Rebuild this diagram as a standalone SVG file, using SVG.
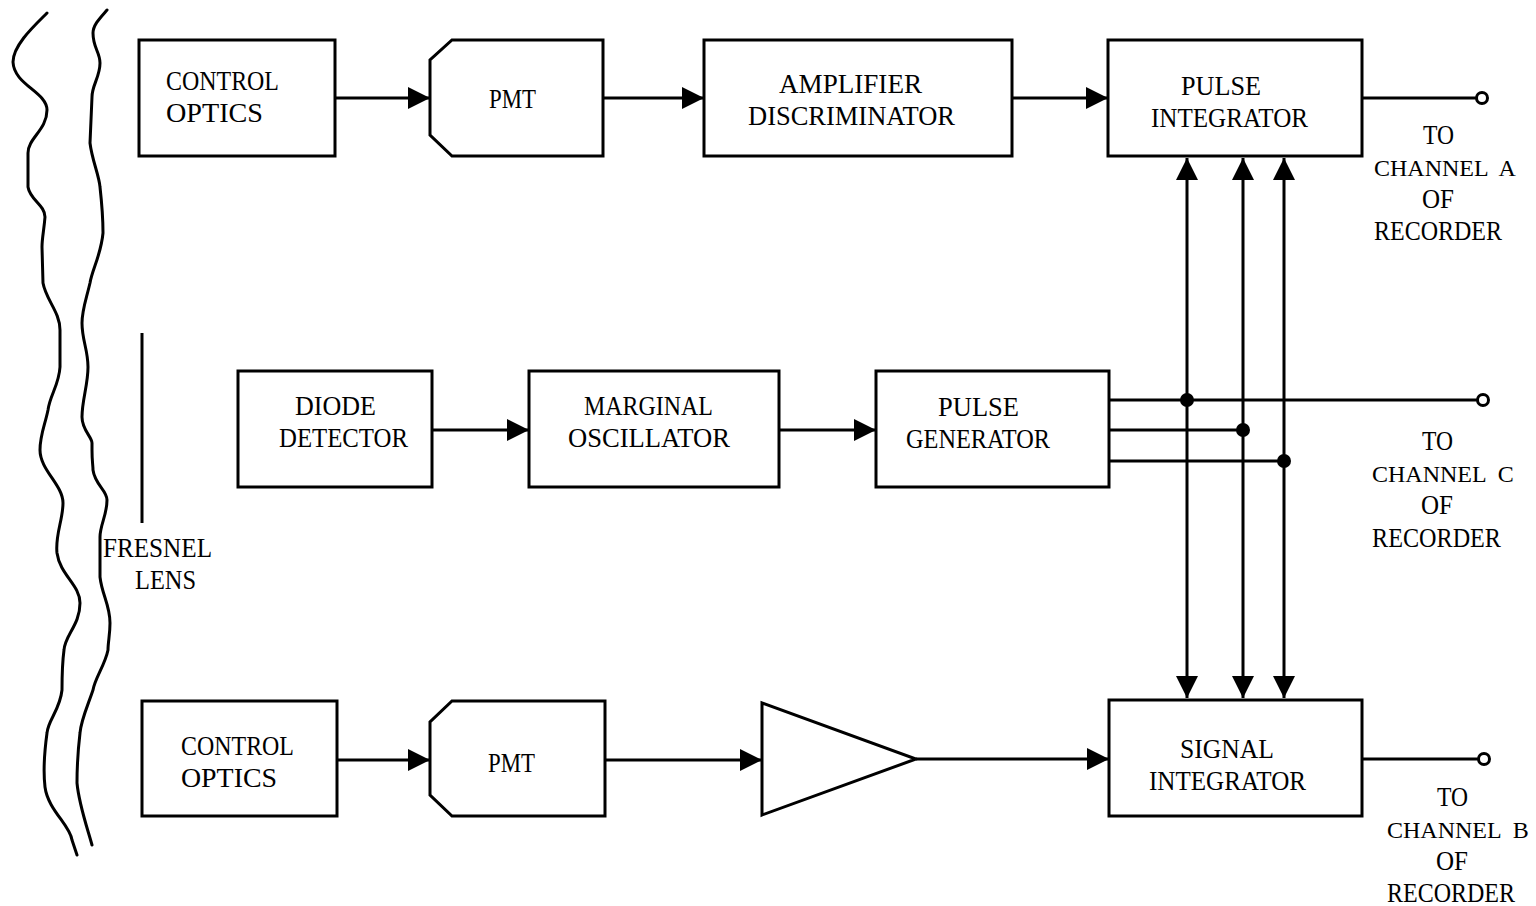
<svg xmlns="http://www.w3.org/2000/svg" width="1536" height="906" viewBox="0 0 1536 906">
<style>
.b{fill:#fff;stroke:#000;stroke-width:3}
.w{fill:none;stroke:#000;stroke-width:3;stroke-linecap:round;stroke-linejoin:round}
.c{fill:none;stroke:#000;stroke-width:3}
.t{font-family:"Liberation Serif","Times New Roman",serif;font-size:28px;fill:#000}
.ch{font-family:"Liberation Serif","Times New Roman",serif;font-size:24px;word-spacing:6px;fill:#000}
.term{fill:#fff;stroke:#000;stroke-width:3}
</style>
<defs>
<marker id="ah" markerUnits="userSpaceOnUse" markerWidth="24" markerHeight="24" refX="22" refY="11" orient="auto-start-reverse">
<path d="M0,0 L22,11 L0,22 Z" fill="#000"/>
</marker>
</defs>
<rect width="1536" height="906" fill="#fff"/>
<g id="boundary">
<path class="w" d="M47,13 C35,25 13,45 13,62 C14,85 47,92 47,110 C47,130 28,138 28,153 L28,187 C30,200 45,205 45,217 C44,230 42,238 42,247 L43,283 C46,300 60,312 60,330 L60,367 C59,385 50,395 48,410 C45,425 40,435 40,450 C40,470 63,485 63,503 C63,520 55,535 57,553 C60,575 80,585 80,603 C80,625 65,635 64,650 C62,665 62,680 62,690 C60,710 48,720 47,733 C44,755 43,770 45,787 C48,810 70,825 72,840 L77,855"/>
<path class="w" d="M107,10 C100,18 93,25 93,33 C93,48 100,52 100,63 C100,77 92,85 92,97 L90,143 C92,160 99,175 100,187 C102,205 103,220 103,233 C101,255 92,270 90,283 C86,300 82,310 82,323 C82,340 88,350 88,367 C88,385 82,400 82,417 C82,430 92,437 92,443 L92,450 C92,462 93,465 93,470 C95,485 107,490 107,500 C107,515 100,525 100,537 L100,577 C102,595 110,605 110,623 C110,635 108,642 108,650 C105,665 95,678 93,690 C88,705 81,720 80,733 C78,750 77,765 77,783 C79,805 88,830 92,845"/>
</g>
<g id="fresnel-lens">
<line class="c" x1="142" y1="333" x2="142" y2="523"/>
<text class="t" x="103" y="557" textLength="109" lengthAdjust="spacingAndGlyphs">FRESNEL</text>
<text class="t" x="135" y="589" textLength="61" lengthAdjust="spacingAndGlyphs">LENS</text>
</g>
<g id="control-optics-a">
<rect class="b" x="139" y="40" width="196" height="116"/>
<text class="t" x="166" y="90" textLength="113" lengthAdjust="spacingAndGlyphs">CONTROL</text>
<text class="t" x="166" y="122" textLength="97" lengthAdjust="spacingAndGlyphs">OPTICS</text>
</g>
<g id="pmt-a">
<path class="b" d="M452,40 L603,40 L603,156 L452,156 L430,135 L430,60 Z"/>
<text class="t" x="489" y="108" textLength="47" lengthAdjust="spacingAndGlyphs">PMT</text>
</g>
<g id="amplifier-discriminator">
<rect class="b" x="704" y="40" width="308" height="116"/>
<text class="t" x="779" y="93" textLength="143" lengthAdjust="spacingAndGlyphs">AMPLIFIER</text>
<text class="t" x="748" y="125" textLength="207" lengthAdjust="spacingAndGlyphs">DISCRIMINATOR</text>
</g>
<g id="pulse-integrator">
<rect class="b" x="1108" y="40" width="254" height="116"/>
<text class="t" x="1181" y="95" textLength="80" lengthAdjust="spacingAndGlyphs">PULSE</text>
<text class="t" x="1151" y="127" textLength="157" lengthAdjust="spacingAndGlyphs">INTEGRATOR</text>
</g>
<g id="diode-detector">
<rect class="b" x="238" y="371" width="194" height="116"/>
<text class="t" x="295" y="415" textLength="81" lengthAdjust="spacingAndGlyphs">DIODE</text>
<text class="t" x="279" y="447" textLength="129" lengthAdjust="spacingAndGlyphs">DETECTOR</text>
</g>
<g id="marginal-oscillator">
<rect class="b" x="529" y="371" width="250" height="116"/>
<text class="t" x="584" y="415" textLength="129" lengthAdjust="spacingAndGlyphs">MARGINAL</text>
<text class="t" x="568" y="447" textLength="162" lengthAdjust="spacingAndGlyphs">OSCILLATOR</text>
</g>
<g id="pulse-generator">
<rect class="b" x="876" y="371" width="233" height="116"/>
<text class="t" x="938" y="416" textLength="81" lengthAdjust="spacingAndGlyphs">PULSE</text>
<text class="t" x="906" y="448" textLength="144" lengthAdjust="spacingAndGlyphs">GENERATOR</text>
</g>
<g id="control-optics-b">
<rect class="b" x="142" y="701" width="195" height="115"/>
<text class="t" x="181" y="755" textLength="113" lengthAdjust="spacingAndGlyphs">CONTROL</text>
<text class="t" x="181" y="787" textLength="96" lengthAdjust="spacingAndGlyphs">OPTICS</text>
</g>
<g id="pmt-b">
<path class="b" d="M452,701 L605,701 L605,816 L452,816 L430,795 L430,722 Z"/>
<text class="t" x="488" y="772" textLength="47" lengthAdjust="spacingAndGlyphs">PMT</text>
</g>
<g id="amplifier">
<path class="b" d="M762,703 L916,759 L762,815 Z"/>
</g>
<g id="signal-integrator">
<rect class="b" x="1109" y="700" width="253" height="116"/>
<text class="t" x="1180" y="758" textLength="94" lengthAdjust="spacingAndGlyphs">SIGNAL</text>
<text class="t" x="1149" y="790" textLength="157" lengthAdjust="spacingAndGlyphs">INTEGRATOR</text>
</g>
<g id="connectors">
<line class="c" x1="335" y1="98" x2="430" y2="98" marker-end="url(#ah)"/>
<line class="c" x1="603" y1="98" x2="704" y2="98" marker-end="url(#ah)"/>
<line class="c" x1="1012" y1="98" x2="1108" y2="98" marker-end="url(#ah)"/>
<line class="c" x1="432" y1="430" x2="529" y2="430" marker-end="url(#ah)"/>
<line class="c" x1="779" y1="430" x2="876" y2="430" marker-end="url(#ah)"/>
<line class="c" x1="337" y1="760" x2="430" y2="760" marker-end="url(#ah)"/>
<line class="c" x1="605" y1="760" x2="762" y2="760" marker-end="url(#ah)"/>
<line class="c" x1="916" y1="759" x2="1109" y2="759" marker-end="url(#ah)"/>
<line class="c" x1="1187" y1="158" x2="1187" y2="698" marker-start="url(#ah)" marker-end="url(#ah)"/>
<line class="c" x1="1243" y1="158" x2="1243" y2="698" marker-start="url(#ah)" marker-end="url(#ah)"/>
<line class="c" x1="1284" y1="158" x2="1284" y2="698" marker-start="url(#ah)" marker-end="url(#ah)"/>
<line class="c" x1="1109" y1="400" x2="1477" y2="400"/>
<line class="c" x1="1109" y1="430" x2="1243" y2="430"/>
<line class="c" x1="1109" y1="461" x2="1284" y2="461"/>
<circle cx="1187" cy="400" r="7" fill="#000"/>
<circle cx="1243" cy="430" r="7" fill="#000"/>
<circle cx="1284" cy="461" r="7" fill="#000"/>
<line class="c" x1="1362" y1="98" x2="1476" y2="98"/>
<line class="c" x1="1362" y1="759" x2="1478" y2="759"/>
<circle class="term" cx="1482" cy="98" r="5.5"/>
<circle class="term" cx="1483" cy="400" r="5.5"/>
<circle class="term" cx="1484" cy="759" r="5.5"/>
</g>
<g id="label-channel-a">
<text class="t" x="1423" y="144" textLength="31" lengthAdjust="spacingAndGlyphs">TO</text>
<text class="ch" x="1374" y="176">CHANNEL A</text>
<text class="t" x="1422" y="208" textLength="32" lengthAdjust="spacingAndGlyphs">OF</text>
<text class="t" x="1374" y="240" textLength="128" lengthAdjust="spacingAndGlyphs">RECORDER</text>
</g>
<g id="label-channel-c">
<text class="t" x="1422" y="450" textLength="31" lengthAdjust="spacingAndGlyphs">TO</text>
<text class="ch" x="1372" y="482">CHANNEL C</text>
<text class="t" x="1421" y="514" textLength="32" lengthAdjust="spacingAndGlyphs">OF</text>
<text class="t" x="1372" y="547" textLength="129" lengthAdjust="spacingAndGlyphs">RECORDER</text>
</g>
<g id="label-channel-b">
<text class="t" x="1437" y="806" textLength="31" lengthAdjust="spacingAndGlyphs">TO</text>
<text class="ch" x="1387" y="838">CHANNEL B</text>
<text class="t" x="1436" y="870" textLength="32" lengthAdjust="spacingAndGlyphs">OF</text>
<text class="t" x="1387" y="902" textLength="128" lengthAdjust="spacingAndGlyphs">RECORDER</text>
</g>
</svg>
